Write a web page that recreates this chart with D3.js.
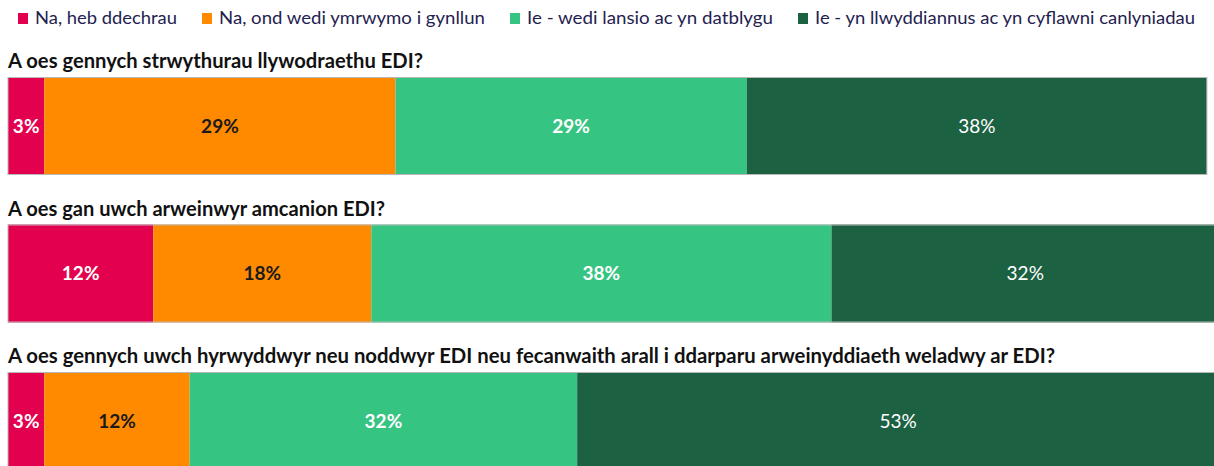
<!DOCTYPE html>
<html>
<head>
<meta charset="utf-8">
<script src="https://cdn.jsdelivr.net/npm/d3@7"></script>
<style>
  html, body { margin: 0; padding: 0; background: #fff; overflow: hidden; }
  svg { display: block; }
</style>
</head>
<body>
<div id="chart"></div>
<script>
// ---- data ----
const categories = [
  "Na, heb ddechrau",
  "Na, ond wedi ymrwymo i gynllun",
  "Ie - wedi lansio ac yn datblygu",
  "Ie - yn llwyddiannus ac yn cyflawni canlyniadau"
];
const questions = [
  "A oes gennych strwythurau llywodraethu EDI?",
  "A oes gan uwch arweinwyr amcanion EDI?",
  "A oes gennych uwch hyrwyddwyr neu noddwyr EDI neu fecanwaith arall i ddarparu arweinyddiaeth weladwy ar EDI?"
];
const notStarted   = [3, 12, 3];
const committed    = [29, 18, 12];
const launched     = [29, 38, 32];
const successful   = [38, 32, 53];

// ---- styling / layout ----
const colors = ["#E3004F", "#FF8A00", "#36C482", "#1C6142"];
const labelColors = ["#ffffff", "#1a1a1a", "#ffffff", "#ffffff"];
const labelWeights = ["bold", "bold", "bold", "normal"];
const legendWidths = [142, 266, 246, 380];
const titleWidths = [415, 377, 1047];
const FONT = "Lato, 'Open Sans', sans-serif";

const W = 1214, H = 466;
const svg = d3.select("#chart").append("svg").attr("width", W).attr("height", H);

const series = [notStarted, committed, launched, successful];
const rows = questions.map((q, i) => {
  const vals = series.map(s => s[i]);
  let acc = 0;
  const segs = vals.map((v, k) => { const s = {k, v, x0: acc, x1: acc + v}; acc += v; return s; });
  return {q, segs, total: acc, i};
});

const x = d3.scaleLinear().domain([0, 100]).range([8, 1219]);
const y = d3.scaleBand().domain(questions).range([77, 470]).paddingInner(0.3356).paddingOuter(0);

// legend
const legend = svg.append("g");
let lx = 18;
categories.forEach((c, k) => {
  const g = legend.append("g");
  g.append("rect").attr("x", lx).attr("y", 13).attr("width", 10).attr("height", 11).attr("fill", colors[k]);
  g.append("text").attr("x", lx + 17).attr("y", 24)
    .attr("font-family", FONT).attr("font-size", 18).attr("fill", "#1F2250")
    .attr("textLength", legendWidths[k]).attr("lengthAdjust", "spacingAndGlyphs")
    .text(c);
  lx = lx + 17 + legendWidths[k] + 25;
});

// bars
rows.forEach(r => {
  const g = svg.append("g");
  const by = y(r.q), bh = y.bandwidth();
  g.append("text").attr("x", 8).attr("y", by - 9)
    .attr("font-family", FONT).attr("font-size", 21).attr("font-weight", "bold").attr("fill", "#111")
    .attr("textLength", titleWidths[r.i]).attr("lengthAdjust", "spacingAndGlyphs")
    .text(r.q);
  g.selectAll("rect.seg").data(r.segs).join("rect").attr("class", "seg")
    .attr("x", d => x(d.x0)).attr("y", by)
    .attr("width", d => x(d.x1) - x(d.x0)).attr("height", bh)
    .attr("fill", d => colors[d.k]);
  g.append("rect").attr("x", x(0)).attr("y", by + 0.5)
    .attr("width", x(r.total) - x(0)).attr("height", bh - 1)
    .attr("fill", "none").attr("stroke", "#b8b8b8").attr("stroke-width", 1);
  g.selectAll("text.lab").data(r.segs).join("text").attr("class", "lab")
    .attr("x", d => (x(d.x0) + x(d.x1)) / 2).attr("y", by + bh / 2)
    .attr("dy", "0.35em").attr("text-anchor", "middle")
    .attr("font-family", FONT).attr("font-size", 19)
    .attr("font-weight", d => labelWeights[d.k]).attr("fill", d => labelColors[d.k])
    .text(d => d.v + "%");
});
</script>
</body>
</html>
